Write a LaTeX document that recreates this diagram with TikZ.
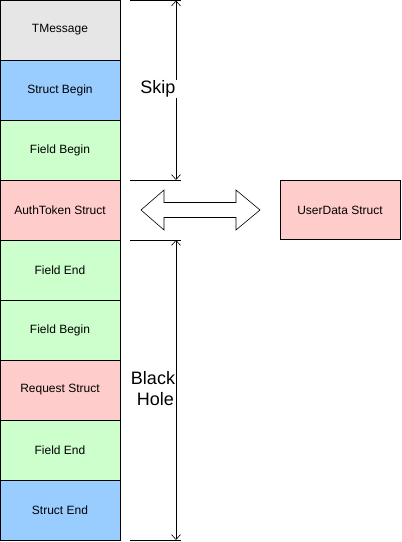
\documentclass[tikz,border=0pt]{standalone}
\usepackage{fontspec}
\setmainfont{Liberation Sans}
\usetikzlibrary{arrows.meta}
\definecolor{msggray}{HTML}{E6E6E6}
\definecolor{structblue}{HTML}{99CCFF}
\definecolor{fieldgreen}{HTML}{CCFFCC}
\definecolor{datapink}{HTML}{FFCCCC}
\begin{document}
\begin{tikzpicture}[x=1pt,y=-1pt,inner sep=0pt,outer sep=0pt,line width=0.8pt,
field/.style={draw,rectangle,minimum width=120pt,minimum height=60pt,font=\fontsize{12}{14}\selectfont},
span/.style={{Straight Barb[length=5pt,width=9pt]}-{Straight Barb[length=5pt,width=9pt]},line width=0.6pt},
spanlabel/.style={fill=white,inner sep=1pt,align=center,font=\fontsize{18}{21}\selectfont}]

\useasboundingbox (0,0) rectangle (402,542);

\draw (60,30) node[field,fill=msggray] (msg) {TMessage};
\draw (60,90) node[field,fill=structblue] (sb) {Struct Begin};
\draw (60,150) node[field,fill=fieldgreen] (fb1) {Field Begin};
\draw (60,210) node[field,fill=datapink] (auth) {AuthToken Struct};
\draw (60,270) node[field,fill=fieldgreen] (fe1) {Field End};
\draw (60,330) node[field,fill=fieldgreen] (fb2) {Field Begin};
\draw (60,390) node[field,fill=datapink] (req) {Request Struct};
\draw (60,450) node[field,fill=fieldgreen] (fe2) {Field End};
\draw (60,510) node[field,fill=structblue] (se) {Struct End};

\draw (340,210) node[field,fill=datapink,minimum height=59pt] (user) {UserData Struct};

% extension lines
\coordinate (top) at (176,0.5);
\coordinate (mid1) at (176,180);
\coordinate (mid2) at (176,240);
\coordinate (bot) at (176,540);
\draw[line width=0.6pt] (130,0.5) -- (181,0.5);
\draw[line width=0.6pt] (130,180) -- (181,180);
\draw[line width=0.6pt] (130,240) -- (181,240);
\draw[line width=0.6pt] (130,540) -- (181,540);

\draw[span] (top) -- (mid1);
\draw[span] (mid2) -- (bot);
\node[spanlabel] (skip) at (158,89) {Skip};
\node[spanlabel] (hole) at (153,389) {Black\\ \ Hole};

% swap arrow
\draw[line width=0.6pt,fill=white] (141,210) -- (164,190) -- (164,202.5) -- (236,202.5) -- (236,190)
  -- (260,210) -- (236,230) -- (236,217.5) -- (164,217.5) -- (164,230) -- cycle;
\end{tikzpicture}
\end{document}
